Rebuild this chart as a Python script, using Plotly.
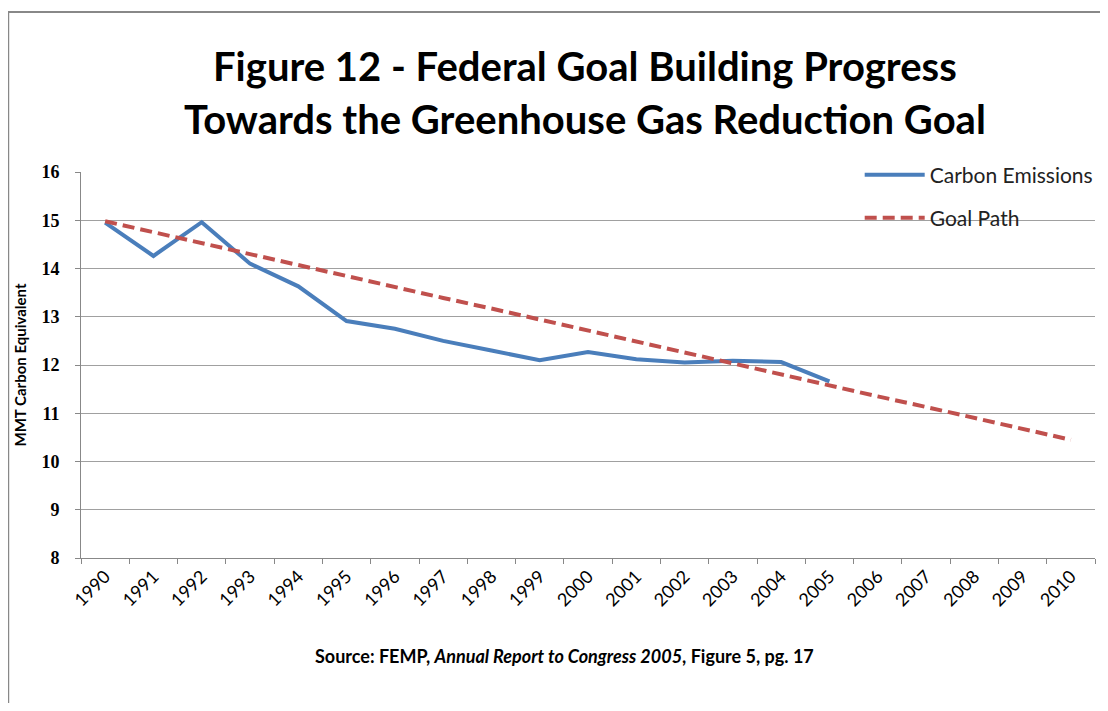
import plotly.graph_objects as go

years = [str(y) for y in range(1990, 2011)]
carbon_years = years[:16]
carbon_emissions = [14.95, 14.26, 14.96, 14.10, 13.63, 12.91, 12.75, 12.50, 12.30, 12.10,
                    12.27, 12.12, 12.05, 12.09, 12.06, 11.66]
goal_path = [14.98, 14.75, 14.53, 14.30, 14.07, 13.85, 13.62, 13.39, 13.17, 12.94, 12.71,
             12.49, 12.26, 12.03, 11.81, 11.58, 11.35, 11.13, 10.90, 10.67, 10.45]
y_ticks = [8, 9, 10, 11, 12, 13, 14, 15, 16]

# page has an 8px body margin; work in reference pixel coords and shift
OFF = 8
W, H = 1108 - 2 * OFF, 711 - 2 * OFF
L, R, T, B = 81 - OFF, 1098 - OFF, 172 - OFF, 558 - OFF


def px_x(px):
    return (px - OFF - L) / (R - L)


def px_y(py):
    return (B - (py - OFF)) / (B - T)


fig = go.Figure()
fig.add_trace(go.Scatter(x=carbon_years, y=carbon_emissions, mode="lines", name="Carbon Emissions",
                         line=dict(color="#4A7EBB", width=4), legend="legend", showlegend=True))
fig.add_trace(go.Scatter(x=years, y=goal_path, mode="lines", name="Goal Path",
                         line=dict(color="#C0504D", width=4, dash="12px,6px"), legend="legend2",
                         showlegend=True))

title_font = dict(family="Lato", size=40, color="#000000", weight="bold")
fig.add_annotation(text="Figure 12 - Federal Goal Building Progress", xref="paper", yref="paper",
                   x=px_x(586), y=px_y(66), xanchor="center", yanchor="middle",
                   showarrow=False, font=title_font)
fig.add_annotation(text="Towards the Greenhouse Gas Reduction Goal", xref="paper", yref="paper",
                   x=px_x(586), y=px_y(119), xanchor="center", yanchor="middle",
                   showarrow=False, font=title_font)
fig.add_annotation(text="Source: FEMP, <i>Annual Report to Congress 2005</i>, Figure 5, pg. 17",
                   xref="paper", yref="paper", x=px_x(566), y=px_y(656),
                   xanchor="center", yanchor="middle", showarrow=False,
                   font=dict(family="Lato", size=18, color="#000000", weight="bold"))

# chart frame (left and top edges visible)
fig.add_shape(type="rect", xref="paper", yref="paper",
              x0=px_x(8), x1=px_x(1160), y0=px_y(760), y1=px_y(12),
              line=dict(color="#888888", width=2), fillcolor="rgba(0,0,0,0)", layer="below")

legend_common = dict(bgcolor="rgba(0,0,0,0)", borderwidth=0, xanchor="left", yanchor="middle",
                     font=dict(family="Lato", size=21, color="#222222"), itemwidth=60)
fig.update_layout(
    width=W, height=H, showlegend=True,
    margin=dict(l=L, r=W - R, t=T, b=H - B),
    paper_bgcolor="white", plot_bgcolor="white",
    legend=dict(x=px_x(862), y=px_y(175), **legend_common),
    legend2=dict(x=px_x(862), y=px_y(218), **legend_common),
    xaxis=dict(type="category", categoryorder="array", categoryarray=years,
               tickangle=-45, tickson="boundaries", ticks="outside", ticklen=5,
               tickcolor="#888888", showline=True, linecolor="#888888", linewidth=1,
               showgrid=False, tickfont=dict(family="Lato", size=18, color="#000000"),
               range=[-0.5, 20.5]),
    yaxis=dict(range=[8, 16], tickvals=y_ticks, ticks="outside", ticklen=5,
               tickcolor="#888888", showline=True, linecolor="#888888", linewidth=1,
               showgrid=True, gridcolor="#A0A0A0", gridwidth=1, zeroline=False,
               ticklabelstandoff=12,
               tickfont=dict(family="Liberation Serif", size=18, color="#000000", weight="bold"),
               title=dict(text="MMT Carbon Equivalent", standoff=11,
                          font=dict(family="Lato", size=15, color="#000000", weight="bold"))),
)

fig.write_html("out.html")
